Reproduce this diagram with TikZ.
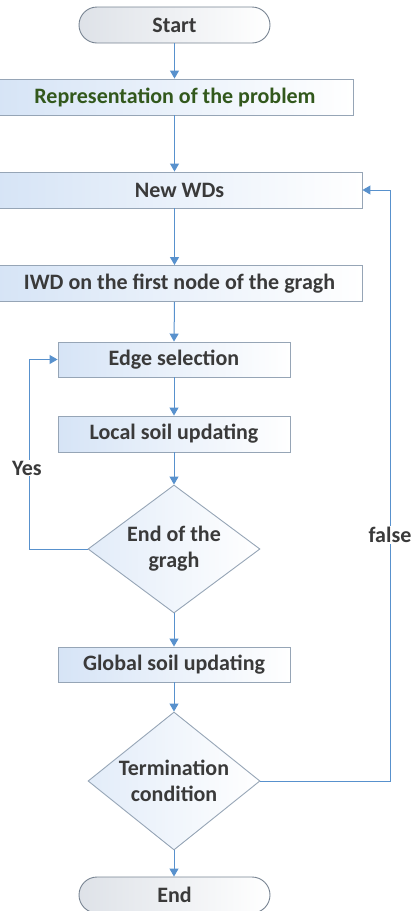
\documentclass[tikz,border=0pt]{standalone}
\usepackage{fontspec}
\setmainfont{Carlito}
\usetikzlibrary{shapes.geometric,arrows.meta,calc}
\definecolor{linec}{RGB}{88,145,205}
\definecolor{borderc}{RGB}{150,165,182}
\definecolor{fillc}{RGB}{214,228,246}
\definecolor{textc}{RGB}{58,58,58}
\definecolor{greenc}{RGB}{50,88,28}
\definecolor{termc}{RGB}{222,226,232}
\begin{document}
\begin{tikzpicture}[x=1pt,y=-1pt,
  font=\fontsize{22}{26}\selectfont\bfseries,
  every node/.style={text=textc},
  procbox/.style={draw=borderc,line width=0.9pt,left color=fillc,right color=white,inner sep=0pt,minimum height=36pt},
  termbox/.style={draw=borderc!80!black,line width=0.9pt,left color=termc,right color=white,rounded corners=18pt,inner sep=0pt,minimum height=36pt,minimum width=191pt},
  decbox/.style={diamond,draw=borderc,line width=0.9pt,left color=fillc!70,right color=white,inner sep=0pt,minimum width=172pt},
  dectext/.style={align=center,inner sep=0pt},
  arr/.style={draw=linec,line width=1pt,-{Triangle[width=9pt,length=8pt]}},
  lbl/.style={fill=white,inner sep=1pt}]
\useasboundingbox (0,0) rectangle (413,911);
\node[termbox] (start) at (174.5,25) {Start};
\node[procbox,minimum width=356pt,text=greenc] (rep) at (175,97) {Representation of the problem};
\node[procbox,minimum width=365pt] (new) at (179.5,190) {New WDs};
\node[procbox,minimum width=365pt] (iwd) at (179.5,283.5) {IWD on the first node of the gragh};
\node[procbox,minimum width=232pt,minimum height=35pt] (edge) at (174,359.5) {Edge selection};
\node[procbox,minimum width=232pt] (local) at (174,434) {Local soil updating};
\node[decbox,minimum height=128pt] (d1) at (174,549) {};
\node[dectext] (d1t) at (174,549) {End of the\\gragh};
\node[procbox,minimum width=232pt,minimum height=35pt] (global) at (174,664.5) {Global soil updating};
\node[decbox,minimum height=138pt] (d2) at (174,781) {};
\node[dectext] (d2t) at (174,781) {Termination\\condition};
\node[termbox] (end) at (174.5,895) {End};
\draw[arr] (start.south -| start) -- (rep.north -| start);
\draw[arr] (rep.south -| start) -- (new.north -| start);
\draw[arr] (new.south -| start) -- (iwd.north -| start);
\draw[arr] (iwd.south -| start) -- (edge.north);
\draw[arr] (edge) -- (local);
\draw[arr] (local) -- (d1);
\draw[arr] (d1) -- (global);
\draw[arr] (global) -- (d2);
\draw[arr] (d2) -- (end.north -| d2);
\coordinate (yc) at ($(d1.west)+(-58,0)$);
\draw[arr] (d1.west) -- (yc) |- (edge.west);
\node[lbl] (yes) at (27,468) {Yes};
\coordinate (fc) at ($(d2.east)+(130,0)$);
\draw[arr] (d2.east) -- (fc) |- (new.east);
\node[lbl] (false) at (390,535) {false};
\end{tikzpicture}
\end{document}
